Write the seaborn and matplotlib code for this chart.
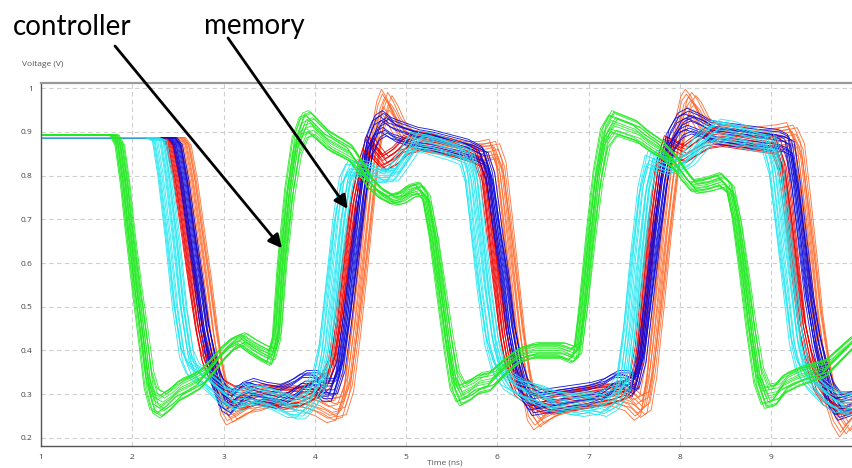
import numpy as np
import pandas as pd
import matplotlib
matplotlib.use("Agg")
import matplotlib.pyplot as plt
import seaborn as sns

# ---- nominal waveforms (time in ns, voltage in V) ----
controller_wave = [
    (0.9, 0.893), (1.80, 0.893), (1.86, 0.87), (1.92, 0.78), (1.97, 0.68), (2.05, 0.54),
    (2.12, 0.43), (2.18, 0.33), (2.24, 0.285), (2.32, 0.275), (2.42, 0.29), (2.52, 0.31),
    (2.62, 0.32), (2.75, 0.335), (2.88, 0.365), (3.0, 0.395), (3.1, 0.415), (3.2, 0.425),
    (3.3, 0.41), (3.42, 0.395), (3.52, 0.385), (3.58, 0.43), (3.64, 0.6), (3.72, 0.76),
    (3.8, 0.87), (3.88, 0.915), (3.95, 0.92), (4.05, 0.90), (4.15, 0.88), (4.28, 0.865),
    (4.4, 0.85), (4.5, 0.82), (4.6, 0.785), (4.72, 0.76), (4.85, 0.745), (4.95, 0.75),
    (5.05, 0.765), (5.15, 0.77), (5.22, 0.75), (5.3, 0.66), (5.38, 0.54), (5.46, 0.42),
    (5.53, 0.33), (5.6, 0.30), (5.7, 0.31), (5.8, 0.325), (5.92, 0.33), (6.02, 0.35),
    (6.12, 0.37), (6.25, 0.39), (6.4, 0.40), (6.55, 0.40), (6.7, 0.40), (6.82, 0.39),
    (6.88, 0.40), (6.94, 0.50), (7.02, 0.66), (7.1, 0.80), (7.18, 0.89), (7.27, 0.92),
    (7.4, 0.91), (7.53, 0.90), (7.65, 0.88), (7.8, 0.86), (7.95, 0.83), (8.05, 0.80),
    (8.15, 0.775), (8.3, 0.78), (8.45, 0.79), (8.55, 0.77), (8.62, 0.70), (8.7, 0.58),
    (8.78, 0.45), (8.86, 0.34), (8.94, 0.295), (9.05, 0.30), (9.15, 0.325), (9.3, 0.34),
    (9.45, 0.35), (9.6, 0.36), (9.75, 0.39), (9.9, 0.42),
]

cyan_wave = [
    (0.9, 0.887), (2.22, 0.887), (2.3, 0.88), (2.36, 0.80), (2.44, 0.66), (2.52, 0.50),
    (2.6, 0.39), (2.67, 0.355), (2.78, 0.34), (2.9, 0.32), (3.0, 0.30), (3.1, 0.285),
    (3.2, 0.29), (3.3, 0.30), (3.45, 0.295), (3.6, 0.285), (3.75, 0.27), (3.85, 0.27),
    (3.95, 0.29), (4.05, 0.33), (4.12, 0.40), (4.2, 0.55), (4.28, 0.70), (4.35, 0.79),
    (4.42, 0.82), (4.55, 0.815), (4.7, 0.80), (4.85, 0.80), (4.98, 0.84), (5.1, 0.88),
    (5.25, 0.875), (5.4, 0.865), (5.55, 0.855), (5.66, 0.845), (5.72, 0.80), (5.78, 0.69),
    (5.86, 0.54), (5.94, 0.42), (6.02, 0.36), (6.12, 0.33), (6.28, 0.31), (6.45, 0.30),
    (6.6, 0.285), (6.75, 0.28), (6.9, 0.275), (7.05, 0.28), (7.15, 0.275), (7.28, 0.29),
    (7.38, 0.32), (7.46, 0.45), (7.54, 0.62), (7.62, 0.77), (7.7, 0.84), (7.8, 0.83),
    (7.95, 0.82), (8.1, 0.84), (8.25, 0.88), (8.4, 0.905), (8.55, 0.90), (8.7, 0.89),
    (8.85, 0.88), (8.98, 0.875), (9.05, 0.82), (9.12, 0.70), (9.2, 0.56), (9.28, 0.42),
    (9.35, 0.36), (9.45, 0.33), (9.6, 0.30), (9.75, 0.28), (9.9, 0.28),
]

red_wave = [
    (0.9, 0.887), (2.36, 0.887), (2.42, 0.87), (2.5, 0.79), (2.58, 0.68), (2.66, 0.56),
    (2.74, 0.45), (2.8, 0.39), (2.88, 0.35), (2.98, 0.31), (3.1, 0.295), (3.25, 0.29),
    (3.4, 0.30), (3.55, 0.295), (3.7, 0.29), (3.85, 0.295), (4.0, 0.31), (4.12, 0.33),
    (4.2, 0.37), (4.28, 0.48), (4.36, 0.62), (4.44, 0.74), (4.52, 0.82), (4.6, 0.87),
    (4.68, 0.85), (4.76, 0.83), (4.88, 0.845), (5.0, 0.87), (5.15, 0.88), (5.3, 0.875),
    (5.5, 0.865), (5.7, 0.85), (5.8, 0.84), (5.86, 0.80), (5.93, 0.68), (6.0, 0.56),
    (6.07, 0.44), (6.14, 0.36), (6.22, 0.32), (6.35, 0.30), (6.5, 0.285), (6.65, 0.28),
    (6.8, 0.285), (6.95, 0.29), (7.1, 0.295), (7.25, 0.30), (7.4, 0.31), (7.5, 0.33),
    (7.56, 0.40), (7.63, 0.55), (7.7, 0.70), (7.78, 0.82), (7.86, 0.87), (7.95, 0.86),
    (8.05, 0.85), (8.15, 0.865), (8.3, 0.885), (8.45, 0.89), (8.6, 0.885), (8.75, 0.88),
    (8.9, 0.875), (9.05, 0.87), (9.13, 0.82), (9.2, 0.71), (9.27, 0.58), (9.34, 0.46),
    (9.42, 0.38), (9.5, 0.33), (9.6, 0.30), (9.75, 0.28), (9.9, 0.28),
]

blue_wave = [
    (0.9, 0.887), (2.44, 0.887), (2.5, 0.87), (2.57, 0.79), (2.65, 0.67), (2.72, 0.57),
    (2.8, 0.45), (2.87, 0.38), (2.93, 0.33), (3.0, 0.29), (3.08, 0.28), (3.18, 0.30),
    (3.3, 0.31), (3.45, 0.30), (3.6, 0.295), (3.75, 0.31), (3.88, 0.33), (4.0, 0.33),
    (4.1, 0.31), (4.2, 0.31), (4.28, 0.36), (4.36, 0.48), (4.44, 0.62), (4.52, 0.76),
    (4.6, 0.87), (4.68, 0.91), (4.76, 0.92), (4.86, 0.905), (5.0, 0.895), (5.15, 0.885),
    (5.3, 0.88), (5.5, 0.87), (5.7, 0.86), (5.85, 0.845), (5.92, 0.80), (6.0, 0.68),
    (6.08, 0.57), (6.15, 0.45), (6.22, 0.37), (6.3, 0.31), (6.4, 0.28), (6.55, 0.285),
    (6.7, 0.29), (6.85, 0.295), (7.0, 0.30), (7.15, 0.31), (7.3, 0.33), (7.4, 0.33),
    (7.5, 0.32), (7.58, 0.38), (7.66, 0.52), (7.74, 0.66), (7.82, 0.79), (7.9, 0.88),
    (8.0, 0.915), (8.1, 0.925), (8.22, 0.915), (8.35, 0.90), (8.5, 0.895), (8.7, 0.89),
    (8.9, 0.885), (9.1, 0.88), (9.2, 0.87), (9.27, 0.78), (9.35, 0.64), (9.42, 0.52),
    (9.5, 0.42), (9.57, 0.36), (9.65, 0.30), (9.75, 0.27), (9.9, 0.28),
]

orange_wave = [
    (0.9, 0.887), (2.52, 0.887), (2.58, 0.87), (2.65, 0.79), (2.73, 0.67), (2.8, 0.57),
    (2.88, 0.44), (2.95, 0.35), (3.02, 0.28), (3.08, 0.26), (3.18, 0.27), (3.3, 0.285),
    (3.45, 0.29), (3.6, 0.30), (3.75, 0.295), (3.9, 0.29), (4.05, 0.28), (4.18, 0.265),
    (4.28, 0.27), (4.36, 0.32), (4.44, 0.45), (4.52, 0.60), (4.6, 0.76), (4.67, 0.88),
    (4.73, 0.94), (4.78, 0.965), (4.84, 0.945), (4.92, 0.91), (5.02, 0.885), (5.2, 0.875),
    (5.45, 0.865), (5.7, 0.855), (5.85, 0.855), (5.96, 0.86), (6.03, 0.82), (6.1, 0.70),
    (6.17, 0.57), (6.24, 0.44), (6.31, 0.34), (6.38, 0.27), (6.45, 0.25), (6.55, 0.265),
    (6.7, 0.28), (6.9, 0.29), (7.1, 0.30), (7.3, 0.30), (7.45, 0.29), (7.55, 0.27),
    (7.62, 0.28), (7.68, 0.35), (7.76, 0.50), (7.84, 0.66), (7.92, 0.80), (8.0, 0.90),
    (8.06, 0.95), (8.11, 0.965), (8.17, 0.95), (8.26, 0.915), (8.4, 0.895), (8.6, 0.89),
    (8.85, 0.885), (9.1, 0.89), (9.22, 0.895), (9.3, 0.86), (9.37, 0.74), (9.44, 0.61),
    (9.5, 0.49), (9.57, 0.39), (9.64, 0.31), (9.72, 0.26), (9.8, 0.235), (9.9, 0.26),
]

# ---- per-run spread of each bundle: timing skew (ns) and swing scaling ----
controller_skew = [-0.05, -0.035, -0.02, -0.01, 0.0, 0.005, 0.015, 0.025, 0.035, 0.045, 0.055, -0.04, 0.01, -0.025, 0.03, -0.015]
controller_swing = [0.06, -0.04, 0.02, -0.07, 0.0, 0.08, -0.02, 0.04, -0.05, 0.03, -0.08, 0.05, 0.07, -0.06, -0.09, 0.09]
cyan_skew = [-0.08, -0.06, -0.05, -0.035, -0.02, 0.0, 0.01, 0.02, 0.035, 0.05, 0.065, 0.08, -0.07, 0.045]
cyan_swing = [0.03, -0.05, 0.07, -0.02, 0.05, -0.07, 0.0, 0.06, -0.04, 0.02, -0.06, 0.04, -0.08, 0.08]
red_skew = [-0.05, -0.04, -0.025, -0.015, -0.005, 0.005, 0.015, 0.025, 0.035, 0.045, -0.03, 0.02]
red_swing = [-0.04, 0.05, -0.06, 0.02, 0.07, -0.02, 0.04, -0.07, 0.0, 0.06, 0.08, -0.08]
blue_skew = [-0.05, -0.04, -0.03, -0.015, -0.005, 0.005, 0.015, 0.025, 0.035, 0.05, -0.02, 0.03]
blue_swing = [0.05, -0.06, 0.02, -0.03, 0.07, -0.05, 0.0, 0.04, -0.07, 0.03, 0.09, -0.09]
orange_skew = [-0.06, -0.04, -0.03, -0.015, 0.0, 0.01, 0.02, 0.035, 0.05, 0.065, -0.05, 0.04]
orange_swing = [-0.05, 0.06, -0.02, 0.04, -0.07, 0.02, 0.07, -0.04, 0.0, 0.05, 0.09, -0.08]

group_order = ["orange", "red", "blue", "cyan", "controller"]
group_colors = {
    "orange": "#ff6a2c",
    "red": "#f00000",
    "blue": "#0a0adc",
    "cyan": "#1ee6f2",
    "controller": "#22ea22",
}

x_ticks = [1, 2, 3, 4, 5, 6, 7, 8, 9]
y_ticks = [0.2, 0.3, 0.4, 0.5, 0.6, 0.7, 0.8, 0.9, 1.0]
y_tick_labels = ["0.2", "0.3", "0.4", "0.5", "0.6", "0.7", "0.8", "0.9", "1"]


def bundle(name, wave, skews, swings):
    tb = np.array([p[0] for p in wave])
    vb = np.array([p[1] for p in wave])
    # runs only diverge after the first falling edge passes mid-rail
    first = int(np.argmax(vb < 0.6))
    active = np.arange(len(vb)) >= first
    parts = []
    for k, (dt, g) in enumerate(zip(skews, swings)):
        parts.append(pd.DataFrame({
            "t": tb + dt,
            "v": vb + g * (vb - 0.6) * active,
            "group": name,
            "run": f"{name}-{k}",
        }))
    return parts


frames = []
frames += bundle("orange", orange_wave, orange_skew, orange_swing)
frames += bundle("red", red_wave, red_skew, red_swing)
frames += bundle("blue", blue_wave, blue_skew, blue_swing)
frames += bundle("cyan", cyan_wave, cyan_skew, cyan_swing)
frames += bundle("controller", controller_wave, controller_skew, controller_swing)
df = pd.concat(frames, ignore_index=True)

sns.set_style("white")
plt.rcParams["font.family"] = ["Open Sans", "DejaVu Sans"]

W, H = 853, 468
fig = plt.figure(figsize=(W / 100, H / 100), dpi=100)
ax = fig.add_axes([41 / W, 1 - 446 / H, (W - 41) / W + 0.01, (446 - 83) / H])

sns.lineplot(
    data=df, x="t", y="v", hue="group", hue_order=group_order,
    palette=group_colors, units="run", estimator=None, sort=False,
    linewidth=0.65, alpha=0.9, legend=False, ax=ax,
)

ax.set_xlim(1, 9.99)
ax.set_ylim(0.1815, 1.012)
ax.set_xticks(x_ticks)
ax.set_xticklabels([str(v) for v in x_ticks])
ax.set_yticks(y_ticks)
ax.set_yticklabels(y_tick_labels)
ax.grid(True, color="#cfcfcf", linestyle=(0, (4, 3)), linewidth=0.8)
ax.set_axisbelow(True)
ax.tick_params(axis="both", labelsize=6, colors="#555555", length=3, width=0.6, pad=3)
for lbl in ax.get_xticklabels() + ax.get_yticklabels():
    lbl.set_color("#444444")
ax.set_xlabel("")
ax.set_ylabel("")
for side in ("left", "bottom"):
    ax.spines[side].set_color("#555555")
    ax.spines[side].set_linewidth(1.0)
ax.spines["top"].set_color("#9a9a9a")
ax.spines["top"].set_linewidth(1.6)
ax.spines["right"].set_visible(False)

fig.text(22 / W, 1 - 65 / H, "Voltage (V)", fontsize=6, color="#555555", va="center", ha="left")
fig.text(445 / W, 1 - 463 / H, "Time (ns)", fontsize=6, color="#555555", va="center", ha="center")

# callouts
label_font = ["Lato", "DejaVu Sans"]
fig.text(72 / W, 1 - 27 / H, "controller", fontsize=20, family=label_font,
         color="black", ha="center", va="center")
fig.text(254 / W, 1 - 26 / H, "memory", fontsize=20, family=label_font,
         color="black", ha="center", va="center")

arrow = dict(arrowstyle="-|>", color="black", lw=2.0, mutation_scale=20,
             shrinkA=0, shrinkB=0)
ax.annotate("", xy=(3.64, 0.634), xycoords="data",
            xytext=(115 / W, 1 - 46 / H), textcoords="figure fraction",
            arrowprops=arrow, annotation_clip=False, zorder=10)
ax.annotate("", xy=(4.36, 0.724), xycoords="data",
            xytext=(228 / W, 1 - 38 / H), textcoords="figure fraction",
            arrowprops=arrow, annotation_clip=False, zorder=10)

fig.savefig("out.png", dpi=100)
